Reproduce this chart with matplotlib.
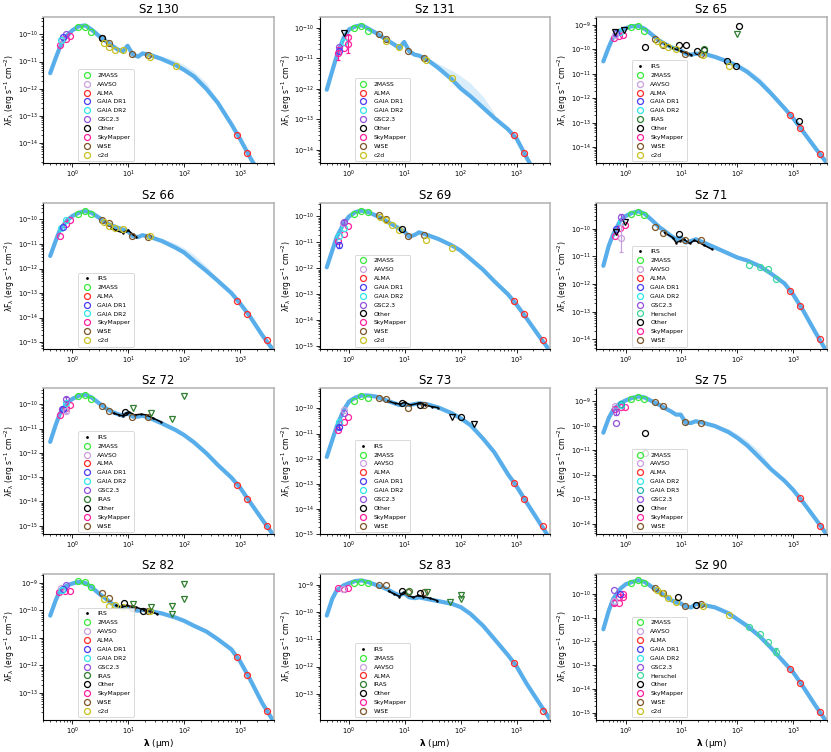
import numpy as np
import matplotlib.pyplot as plt
from matplotlib.lines import Line2D

# model grid (micron); model fluxes are log10(lambda F_lambda)
model_wl = [0.4, 0.5, 0.6, 0.8, 1.0, 1.3, 1.7, 2.2, 3, 4, 5, 6.5, 8, 9.7, 12, 15, 18,
            25, 40, 70, 100, 150, 250, 400, 700, 1000, 1500, 2500, 4000]
fan_wl = [25, 40, 70, 100, 150, 250, 400]

# photometry tuples: (wavelength, log10 flux, source, error in dex, upper limit)
sz130_model = [-11.43, -10.88, -10.46, -10.04, -9.85, -9.70, -9.67, -9.82, -10.06, -10.25, -10.40,
               -10.56, -10.62, -10.42, -10.74, -10.82, -10.70, -10.76, -10.91, -11.13, -11.31,
               -11.55, -12.01, -12.52, -13.31, -13.85, -14.52, -15.30, -16.10]
sz130_fan = [-10.72, -10.80, -10.96, -11.12, -11.36, -11.78, -12.42]
sz130_phot = [(0.61, -10.38, "SkyMapper", 0, 0), (0.77, -10.16, "SkyMapper", 0, 0),
              (0.91, -10.06, "SkyMapper", 0, 0), (0.64, -10.16, "AAVSO", 0, 0),
              (0.78, -9.98, "GSC2.3", 0, 0), (0.67, -10.10, "GAIA DR1", 0, 0),
              (0.62, -10.20, "GAIA DR2", 0, 0),
              (1.235, -9.71, "2MASS", 0, 0), (1.66, -9.71, "2MASS", 0, 0), (2.16, -9.92, "2MASS", 0, 0),
              (3.4, -10.13, "WISE", 0, 0), (4.6, -10.30, "WISE", 0, 0), (11.6, -10.73, "WISE", 0, 0),
              (22.1, -10.76, "WISE", 0, 0), (3.35, -10.12, "Other", 0, 0),
              (3.6, -10.32, "c2d", 0, 0), (4.5, -10.46, "c2d", 0, 0), (5.8, -10.57, "c2d", 0, 0),
              (8.0, -10.58, "c2d", 0, 0), (24, -10.85, "c2d", 0, 0), (70, -11.16, "c2d", 0, 0),
              (890, -13.70, "ALMA", 0, 0), (1330, -14.36, "ALMA", 0, 0)]
sz130_irs = []

sz131_model = [-12.03, -11.42, -10.93, -10.33, -10.05, -9.95, -9.91, -10.02, -10.16, -10.31, -10.42,
               -10.55, -10.66, -10.46, -10.77, -10.88, -10.91, -11.04, -11.32, -11.70, -11.99,
               -12.25, -12.62, -12.96, -13.33, -13.64, -14.25, -15.0, -15.7]
sz131_fan = [-10.98, -11.18, -11.40, -11.58, -11.82, -12.25, -12.80]
sz131_phot = [(0.64, -10.84, "SkyMapper", 0.2, 0), (0.81, -10.66, "SkyMapper", 0, 0),
              (0.96, -10.53, "SkyMapper", 0.3, 0), (0.96, -10.30, "SkyMapper", 0, 0),
              (0.66, -10.64, "GSC2.3", 0, 0), (0.66, -10.75, "GAIA DR1", 0, 0),
              (0.81, -10.46, "GAIA DR2", 0, 0), (0.81, -10.16, "Other", 0, 1),
              (1.235, -10.0, "2MASS", 0, 0), (1.66, -9.95, "2MASS", 0, 0), (2.16, -10.09, "2MASS", 0, 0),
              (3.4, -10.20, "WISE", 0, 0), (4.6, -10.36, "WISE", 0, 0), (11.6, -10.77, "WISE", 0, 0),
              (22.1, -10.99, "WISE", 0, 0),
              (4.5, -10.42, "c2d", 0, 0), (8.0, -10.64, "c2d", 0, 0), (24, -11.07, "c2d", 0, 0),
              (70, -11.64, "c2d", 0, 0),
              (890, -13.53, "ALMA", 0, 0), (1330, -14.11, "ALMA", 0, 0)]
sz131_irs = []

sz65_model = [-10.49, -9.91, -9.50, -9.23, -9.14, -9.05, -9.05, -9.16, -9.41, -9.64, -9.77,
              -9.91, -9.98, -10.04, -10.18, -10.22, -10.18, -10.18, -10.31, -10.52, -10.68,
              -10.92, -11.33, -11.80, -12.41, -12.82, -13.36, -14.04, -14.65]
sz65_fan = [-10.15, -10.22, -10.40, -10.56, -10.78, -11.15, -11.65]
sz65_phot = [(0.61, -9.54, "SkyMapper", 0, 0), (0.77, -9.46, "SkyMapper", 0, 0),
             (0.91, -9.41, "SkyMapper", 0, 0), (0.78, -9.30, "GAIA DR2", 0, 0),
             (0.67, -9.35, "GAIA DR1", 0, 0), (0.64, -9.40, "AAVSO", 0, 0),
             (0.66, -9.28, "Other", 0, 1), (0.95, -9.22, "Other", 0, 1),
             (1.235, -9.07, "2MASS", 0, 0), (1.66, -9.05, "2MASS", 0, 0), (2.16, -9.23, "2MASS", 0, 0),
             (2.2, -9.91, "Other", 0, 0), (9.0, -9.81, "Other", 0, 0), (12, -9.84, "Other", 0, 0),
             (19, -10.07, "Other", 0, 0), (25, -10.02, "Other", 0, 0), (64, -10.48, "Other", 0, 0),
             (93, -10.69, "Other", 0, 0), (106, -9.05, "Other", 0, 0), (1280, -12.92, "Other", 0, 0),
             (3.4, -9.58, "WISE", 0, 0), (4.6, -9.81, "WISE", 0, 0), (11.6, -10.18, "WISE", 0, 0),
             (22.1, -10.20, "WISE", 0, 0),
             (3.6, -9.66, "c2d", 0, 0), (4.5, -9.80, "c2d", 0, 0), (5.8, -9.91, "c2d", 0, 0),
             (8.0, -9.98, "c2d", 0, 0), (24, -10.22, "c2d", 0, 0), (72, -10.69, "c2d", 0, 0),
             (25, -9.98, "IRAS", 0, 0), (100, -9.37, "IRAS", 0, 1),
             (890, -12.69, "ALMA", 0, 0), (1330, -13.20, "ALMA", 0, 0), (3000, -14.28, "ALMA", 0, 0)]
sz65_irs = [(5, -9.77), (7, -9.95), (10, -10.08), (13, -10.18), (15, -10.22)]

sz66_model = [-11.49, -10.88, -10.41, -10.04, -9.86, -9.73, -9.66, -9.73, -9.93, -10.14, -10.24,
              -10.34, -10.41, -10.47, -10.68, -10.72, -10.64, -10.72, -10.88, -11.15, -11.35,
              -11.69, -12.10, -12.50, -13.0, -13.42, -13.95, -14.72, -15.35]
sz66_fan = [-10.69, -10.77, -10.98, -11.16, -11.44, -11.90, -12.42]
sz66_phot = [(0.61, -10.68, "SkyMapper", 0, 0), (0.77, -10.18, "SkyMapper", 0, 0),
             (0.91, -10.03, "SkyMapper", 0, 0), (0.63, -10.34, "GAIA DR2", 0, 0),
             (0.78, -10.04, "GAIA DR2", 0, 0), (0.67, -10.30, "GAIA DR1", 0, 0),
             (1.235, -9.76, "2MASS", 0, 0), (1.66, -9.66, "2MASS", 0, 0), (2.16, -9.76, "2MASS", 0, 0),
             (3.4, -10.03, "WISE", 0, 0), (4.6, -10.14, "WISE", 0, 0), (11.6, -10.68, "WISE", 0, 0),
             (22.1, -10.70, "WISE", 0, 0),
             (3.6, -10.09, "c2d", 0, 0), (4.5, -10.27, "c2d", 0, 0), (5.8, -10.36, "c2d", 0, 0),
             (8.0, -10.41, "c2d", 0, 0), (24, -10.68, "c2d", 0, 0),
             (890, -13.31, "ALMA", 0, 0), (1330, -13.85, "ALMA", 0, 0), (3000, -14.91, "ALMA", 0, 0)]
sz66_irs = [(5, -10.34), (6, -10.45), (8, -10.54), (9, -10.47), (10, -10.45), (12, -10.61), (14, -10.72)]

sz69_model = [-11.96, -11.32, -10.80, -10.28, -10.0, -9.83, -9.77, -9.83, -9.96, -10.09, -10.22,
              -10.35, -10.48, -10.57, -10.78, -10.71, -10.61, -10.71, -10.87, -11.12, -11.32,
              -11.64, -12.05, -12.50, -13.0, -13.40, -13.92, -14.60, -15.2]
sz69_fan = [-10.70, -10.83, -11.06, -11.24, -11.53, -11.97, -12.46]
sz69_phot = [(0.64, -10.93, "SkyMapper", 0, 0), (0.81, -10.67, "SkyMapper", 0, 0),
             (0.96, -10.35, "SkyMapper", 0, 0), (0.66, -11.09, "GAIA DR1", 0.12, 0),
             (0.66, -10.74, "GAIA DR2", 0, 0), (0.81, -10.44, "GAIA DR2", 0, 0),
             (0.79, -10.26, "AAVSO", 0, 0), (0.81, -10.22, "GSC2.3", 0.1, 0),
             (1.235, -9.90, "2MASS", 0, 0), (1.66, -9.79, "2MASS", 0, 0), (2.16, -9.83, "2MASS", 0, 0),
             (3.4, -9.96, "WISE", 0, 0), (4.6, -10.09, "WISE", 0, 0), (11.6, -10.74, "WISE", 0, 0),
             (22.1, -10.71, "WISE", 0, 0),
             (3.6, -10.03, "c2d", 0, 0), (4.5, -10.12, "c2d", 0, 0), (5.8, -10.31, "c2d", 0, 0),
             (8.0, -10.52, "c2d", 0, 0), (24, -10.90, "c2d", 0, 0), (70, -11.21, "c2d", 0, 0),
             (9.0, -10.48, "Other", 0, 0),
             (890, -13.26, "ALMA", 0, 0), (1330, -13.75, "ALMA", 0, 0), (3000, -14.78, "ALMA", 0, 0)]
sz69_irs = []

sz71_model = [-11.34, -10.62, -10.20, -9.72, -9.54, -9.43, -9.37, -9.46, -9.70, -9.94, -10.08,
              -10.26, -10.38, -10.32, -10.50, -10.44, -10.38, -10.50, -10.68, -10.90, -11.04,
              -11.15, -11.35, -11.62, -11.98, -12.38, -12.95, -13.75, -14.45]
sz71_fan = [-10.47, -10.62, -10.83, -10.96, -11.08, -11.30, -11.60]
sz71_phot = [(0.64, -10.26, "SkyMapper", 0, 0), (0.81, -9.99, "SkyMapper", 0, 0),
             (0.97, -9.87, "SkyMapper", 0, 0), (0.68, -10.02, "GAIA DR1", 0, 0),
             (0.84, -9.76, "GAIA DR2", 0, 0), (0.84, -9.58, "GSC2.3", 0.1, 0),
             (0.84, -10.35, "AAVSO", 0.5, 0), (0.68, -10.10, "Other", 0, 1),
             (0.97, -9.75, "Other", 0, 1),
             (1.235, -9.46, "2MASS", 0, 0), (1.66, -9.39, "2MASS", 0, 0), (2.16, -9.51, "2MASS", 0, 0),
             (3.4, -9.93, "WISE", 0, 0), (4.6, -10.14, "WISE", 0, 0), (11.6, -10.42, "WISE", 0, 0),
             (22.1, -10.42, "WISE", 0, 0), (9.0, -10.20, "Other", 0, 0),
             (160, -11.31, "Herschel", 0, 0), (250, -11.37, "Herschel", 0, 0),
             (350, -11.44, "Herschel", 0, 0), (500, -11.80, "Herschel", 0, 0),
             (890, -12.24, "ALMA", 0, 0), (1330, -12.78, "ALMA", 0, 0), (3000, -14.0, "ALMA", 0, 0)]
sz71_irs = [(5, -10.14), (7, -10.32), (8, -10.50), (9.5, -10.44), (11, -10.38), (14, -10.53),
            (17, -10.42), (20, -10.48), (25, -10.59), (35, -10.74)]

sz72_model = [-11.55, -10.86, -10.37, -9.96, -9.78, -9.65, -9.61, -9.72, -9.96, -10.17, -10.30,
              -10.41, -10.47, -10.37, -10.51, -10.51, -10.47, -10.58, -10.79, -11.06, -11.27,
              -11.57, -12.02, -12.50, -13.02, -13.43, -14.02, -14.75, -15.4]
sz72_fan = [-10.57, -10.76, -11.02, -11.21, -11.49, -11.93, -12.46]
sz72_phot = [(0.61, -10.44, "SkyMapper", 0, 0), (0.77, -10.17, "SkyMapper", 0, 0),
             (0.91, -10.03, "SkyMapper", 0, 0), (0.77, -9.78, "GSC2.3", 0.08, 0),
             (0.65, -10.21, "GSC2.3", 0, 0), (0.78, -10.28, "AAVSO", 0.1, 0),
             (0.67, -10.19, "GAIA DR1", 0, 0), (0.78, -9.96, "GAIA DR2", 0, 0),
             (1.235, -9.65, "2MASS", 0, 0), (1.66, -9.64, "2MASS", 0, 0), (2.16, -9.79, "2MASS", 0, 0),
             (3.4, -10.07, "WISE", 0, 0), (4.6, -10.26, "WISE", 0, 0), (11.6, -10.54, "WISE", 0, 0),
             (22.1, -10.54, "WISE", 0, 0), (8.6, -10.30, "Other", 0, 0),
             (12, -10.17, "IRAS", 0, 1), (25, -10.37, "IRAS", 0, 1), (60, -10.61, "IRAS", 0, 1),
             (100, -9.65, "IRAS", 0, 1),
             (890, -13.31, "ALMA", 0, 0), (1330, -13.92, "ALMA", 0, 0), (3000, -15.03, "ALMA", 0, 0)]
sz72_irs = [(5.5, -10.37), (6.8, -10.44), (8, -10.48), (9, -10.37), (10.5, -10.33), (13, -10.44),
            (17, -10.41), (21, -10.44), (28, -10.58), (38, -10.72)]

sz73_model = [-11.93, -11.27, -10.73, -10.07, -9.73, -9.57, -9.49, -9.49, -9.53, -9.63, -9.71,
              -9.80, -9.87, -9.84, -9.87, -9.83, -9.80, -9.84, -9.97, -10.20, -10.40,
              -10.67, -11.20, -11.75, -12.62, -13.10, -13.73, -14.50, -15.2]
sz73_fan = [-9.83, -9.95, -10.17, -10.36, -10.62, -11.12, -11.70]
sz73_phot = [(0.64, -10.87, "SkyMapper", 0, 0), (0.81, -10.53, "SkyMapper", 0, 0),
             (0.96, -10.36, "SkyMapper", 0, 0), (0.66, -10.56, "GAIA DR2", 0, 0),
             (0.67, -10.73, "GAIA DR1", 0.08, 0), (0.81, -10.20, "GSC2.3", 0, 0),
             (0.81, -10.07, "AAVSO", 0, 0),
             (1.235, -9.69, "2MASS", 0, 0), (1.66, -9.51, "2MASS", 0, 0), (2.16, -9.57, "2MASS", 0, 0),
             (3.4, -9.57, "WISE", 0, 0), (4.6, -9.63, "WISE", 0, 0), (11.6, -9.97, "WISE", 0, 0),
             (22.1, -9.87, "WISE", 0, 0),
             (9.0, -9.77, "Other", 0, 0), (19, -9.87, "Other", 0, 0), (100, -10.35, "Other", 0, 0),
             (70, -10.36, "Other", 0, 1), (170, -10.63, "Other", 0, 1),
             (890, -12.97, "ALMA", 0, 0), (1330, -13.60, "ALMA", 0, 0), (3000, -14.69, "ALMA", 0, 0)]
sz73_irs = [(5, -9.71), (6.6, -9.80), (8.2, -9.83), (10, -9.76), (12.5, -9.87), (17.5, -9.80),
            (23, -9.87), (30, -9.93), (39, -9.97)]

sz75_model = [-10.28, -9.68, -9.34, -9.07, -8.96, -8.86, -8.80, -8.84, -9.00, -9.14, -9.27,
              -9.41, -9.54, -9.54, -9.88, -9.88, -9.81, -9.88, -10.01, -10.26, -10.49,
              -10.80, -11.30, -11.77, -12.25, -12.62, -13.12, -13.80, -14.45]
sz75_fan = [-9.85, -9.93, -10.12, -10.32, -10.60, -11.05, -11.65]
sz75_phot = [(0.64, -9.31, "SkyMapper", 0, 0), (0.84, -9.23, "SkyMapper", 0, 0),
             (0.97, -9.24, "SkyMapper", 0, 0), (0.66, -9.20, "AAVSO", 0, 0),
             (0.67, -9.88, "GSC2.3", 0, 0), (0.67, -9.45, "GSC2.3", 0.12, 0),
             (0.84, -9.14, "GAIA DR2", 0, 0), (0.84, -9.09, "GAIA DR3", 0, 0),
             (1.235, -8.89, "2MASS", 0, 0), (1.66, -8.82, "2MASS", 0, 0), (2.16, -8.91, "2MASS", 0, 0),
             (3.4, -9.03, "WISE", 0, 0), (4.6, -9.18, "WISE", 0, 0), (11.6, -9.84, "WISE", 0, 0),
             (22.1, -9.88, "WISE", 0, 0),
             (2.2, -10.31, "Other", 0, 0), (2.2, -11.09, "Other", 0, 0),
             (1330, -12.96, "ALMA", 0, 0), (3000, -14.09, "ALMA", 0, 0)]
sz75_irs = []

sz82_model = [-10.19, -9.64, -9.27, -9.09, -9.02, -8.96, -9.0, -9.15, -9.39, -9.58, -9.74,
              -9.86, -9.91, -9.86, -9.98, -10.01, -9.98, -10.03, -10.11, -10.26, -10.38,
              -10.56, -10.77, -11.05, -11.42, -11.85, -12.50, -13.38, -14.05]
sz82_fan = [-10.02, -10.09, -10.23, -10.34, -10.51, -10.72, -11.02]
sz82_phot = [(0.58, -9.33, "SkyMapper", 0, 0), (0.75, -9.30, "SkyMapper", 0, 0),
             (0.90, -9.30, "SkyMapper", 0, 0), (0.77, -9.09, "GSC2.3", 0, 0),
             (0.62, -9.17, "AAVSO", 0, 0), (0.67, -9.22, "GAIA DR1", 0, 0),
             (0.64, -9.25, "GAIA DR2", 0, 0),
             (1.235, -8.94, "2MASS", 0, 0), (1.66, -8.96, "2MASS", 0, 0), (2.16, -9.15, "2MASS", 0, 0),
             (3.4, -9.37, "WISE", 0, 0), (4.6, -9.55, "WISE", 0, 0), (11.6, -9.91, "WISE", 0, 0),
             (22.1, -10.01, "WISE", 0, 0),
             (3.6, -9.58, "c2d", 0, 0), (4.5, -9.85, "c2d", 0, 0), (5.8, -9.82, "c2d", 0, 0),
             (8.0, -9.86, "c2d", 0, 0), (24, -10.01, "c2d", 0, 0),
             (8.3, -9.74, "Other", 0, 0), (18, -10.01, "Other", 0, 0),
             (12, -9.76, "IRAS", 0, 1), (25, -9.86, "IRAS", 0, 1), (60, -9.85, "IRAS", 0, 1),
             (60, -10.13, "IRAS", 0, 1), (100, -9.05, "IRAS", 0, 1), (100, -9.60, "IRAS", 0, 1),
             (890, -11.70, "ALMA", 0, 0), (1330, -12.35, "ALMA", 0, 0), (3000, -13.68, "ALMA", 0, 0)]
sz82_irs = [(6, -9.82), (7.5, -9.89), (9.3, -9.82), (11.5, -9.86), (14, -9.89), (19, -9.98),
            (24, -10.03), (33, -10.13)]

sz83_model = [-10.13, -9.52, -9.21, -9.02, -8.94, -8.86, -8.84, -8.90, -9.0, -9.09, -9.18,
              -9.31, -9.39, -9.31, -9.46, -9.49, -9.46, -9.52, -9.60, -9.70, -9.82,
              -10.07, -10.50, -10.99, -11.58, -12.0, -12.62, -13.32, -13.95]
sz83_fan = [-9.51, -9.58, -9.67, -9.78, -10.02, -10.44, -10.95]
sz83_phot = [(0.64, -9.12, "SkyMapper", 0, 0), (0.81, -9.17, "SkyMapper", 0, 0),
             (0.96, -9.12, "SkyMapper", 0, 0), (0.77, -9.15, "AAVSO", 0, 0),
             (1.235, -8.94, "2MASS", 0, 0), (1.66, -8.88, "2MASS", 0, 0), (2.16, -8.94, "2MASS", 0, 0),
             (3.4, -9.02, "WISE", 0, 0), (4.6, -9.0, "WISE", 0, 0), (11.6, -9.27, "WISE", 0, 0),
             (22.1, -9.25, "WISE", 0, 0),
             (9.0, -9.21, "Other", 0, 0), (19, -9.31, "Other", 0, 0),
             (12, -9.21, "IRAS", 0, 0), (25, -9.27, "IRAS", 0, 1), (65, -9.62, "IRAS", 0, 1),
             (100, -9.39, "IRAS", 0, 1), (100, -9.52, "IRAS", 0, 1),
             (890, -11.86, "ALMA", 0, 0), (3000, -13.62, "ALMA", 0, 0)]
sz83_irs = [(5.1, -9.23), (6.4, -9.33), (8, -9.43), (9.5, -9.27), (11.5, -9.39), (14, -9.46),
            (17.5, -9.39), (21, -9.43), (28, -9.49), (38, -9.58)]

sz90_model = [-11.49, -10.71, -10.21, -9.79, -9.60, -9.50, -9.43, -9.50, -9.72, -9.93, -10.07,
              -10.26, -10.36, -10.40, -10.54, -10.57, -10.43, -10.47, -10.57, -10.82, -11.07,
              -11.35, -11.78, -12.27, -12.90, -13.30, -13.90, -14.70, -15.4]
sz90_fan = [-10.45, -10.52, -10.73, -10.96, -11.22, -11.66, -12.22]
sz90_phot = [(0.61, -10.40, "SkyMapper", 0, 0), (0.61, -10.33, "SkyMapper", 0, 0),
             (0.77, -10.40, "SkyMapper", 0, 0), (0.77, -10.14, "SkyMapper", 0, 0),
             (0.91, -10.14, "SkyMapper", 0, 0), (0.91, -10.0, "SkyMapper", 0, 0),
             (0.63, -9.83, "GSC2.3", 0, 0), (0.78, -10.0, "GAIA DR1", 0, 0),
             (0.63, -10.28, "GAIA DR2", 0, 0), (0.63, -10.30, "AAVSO", 0, 0),
             (1.235, -9.55, "2MASS", 0, 0), (1.66, -9.43, "2MASS", 0, 0), (2.16, -9.53, "2MASS", 0, 0),
             (3.4, -9.76, "WISE", 0, 0), (4.6, -9.97, "WISE", 0, 0), (11.6, -10.50, "WISE", 0, 0),
             (22.1, -10.43, "WISE", 0, 0),
             (3.6, -9.82, "c2d", 0, 0), (4.5, -9.97, "c2d", 0, 0), (5.8, -10.18, "c2d", 0, 0),
             (8.0, -10.33, "c2d", 0, 0), (24, -10.50, "c2d", 0, 0), (70, -10.88, "c2d", 0, 0),
             (8.7, -10.14, "Other", 0, 0), (18.5, -10.45, "Other", 0, 0),
             (160, -11.38, "Herschel", 0, 0), (250, -11.70, "Herschel", 0, 0),
             (350, -12.02, "Herschel", 0, 0), (500, -12.44, "Herschel", 0.15, 0),
             (890, -13.17, "ALMA", 0, 0), (1330, -13.74, "ALMA", 0, 0), (3000, -14.97, "ALMA", 0, 0)]
sz90_irs = []

panels = [
    ("Sz 130", sz130_model, sz130_fan, sz130_phot, sz130_irs, (-14.75, -9.37)),
    ("Sz 131", sz131_model, sz131_fan, sz131_phot, sz131_irs, (-14.45, -9.65)),
    ("Sz 65", sz65_model, sz65_fan, sz65_phot, sz65_irs, (-14.66, -8.69)),
    ("Sz 66", sz66_model, sz66_fan, sz66_phot, sz66_irs, (-15.27, -9.32)),
    ("Sz 69", sz69_model, sz69_fan, sz69_phot, sz69_irs, (-15.10, -9.47)),
    ("Sz 71", sz71_model, sz71_fan, sz71_phot, sz71_irs, (-14.34, -9.06)),
    ("Sz 72", sz72_model, sz72_fan, sz72_phot, sz72_irs, (-15.35, -9.34)),
    ("Sz 73", sz73_model, sz73_fan, sz73_phot, sz73_irs, (-15.0, -9.20)),
    ("Sz 75", sz75_model, sz75_fan, sz75_phot, sz75_irs, (-14.43, -8.46)),
    ("Sz 82", sz82_model, sz82_fan, sz82_phot, sz82_irs, (-13.98, -8.66)),
    ("Sz 83", sz83_model, sz83_fan, sz83_phot, sz83_irs, (-13.95, -8.59)),
    ("Sz 90", sz90_model, sz90_fan, sz90_phot, sz90_irs, (-15.29, -9.15)),
]

colors = {
    "2MASS": "#3ae83a", "AAVSO": "#c9a0dc", "ALMA": "#ff2a2a", "GAIA DR1": "#4a3cf0",
    "GAIA DR2": "#2fe6e6", "GAIA DR3": "#1fb5b0", "GSC2.3": "#9350dc", "Herschel": "#3dd69a",
    "IRAS": "#2f7d2f", "Other": "black", "SkyMapper": "#ff1f9e", "WISE": "#7d5528",
    "c2d": "#c8c020",
}
BLUE = "#58aeea"

fig = plt.figure(figsize=(8.31, 7.52), dpi=100)
axes = fig.subplots(4, 3)
fig.subplots_adjust(left=0.052, right=0.995, top=0.977, bottom=0.043, wspace=0.2, hspace=0.27)

idx = [model_wl.index(w) for w in fan_wl]

for k, (name, model, fan, phot, irs, ylim) in enumerate(panels):
    ax = axes.flat[k]
    mflux = 10 ** np.array(model)
    # faint spread of fitted models in the far-IR
    ax.fill_between(fan_wl, mflux[idx], 10 ** np.array(fan), color=BLUE, alpha=0.22, lw=0, zorder=1)
    ax.plot(model_wl, mflux, color=BLUE, lw=3.0, solid_capstyle="round",
            solid_joinstyle="round", zorder=2)

    handles = []
    if irs:
        iw = [p[0] for p in irs]
        iflux = [10 ** p[1] for p in irs]
        ax.plot(iw, iflux, color="black", lw=1.1, marker=".", ms=1.5, zorder=3)
        handles.append(Line2D([], [], ls="none", marker=".", ms=2, color="black", label="IRS"))

    for wl, lf, src, err, ul in phot:
        c = colors[src]
        mk = "v" if ul else "o"
        if err > 0:
            f = 10 ** lf
            ax.errorbar([wl], [f], yerr=[[f - 10 ** (lf - err)], [10 ** (lf + err) - f]],
                        fmt=mk, mfc="none", mec=c, ecolor=c, ms=4.3, mew=0.9, elinewidth=0.9,
                        capsize=1.2, zorder=4)
        else:
            ax.plot([wl], [10 ** lf], ls="none", marker=mk, mfc="none", mec=c, ms=4.3,
                    mew=0.9, zorder=4)

    for src in sorted(set(p[2] for p in phot)):
        handles.append(Line2D([], [], ls="none", marker="o", mfc="none", mec=colors[src],
                              ms=4.3, mew=0.9, label=src))

    ax.set_xscale("log")
    ax.set_yscale("log")
    ax.set_xlim(0.3, 4000)
    ax.set_ylim(10 ** ylim[0], 10 ** ylim[1])
    ax.set_title(name, fontsize=8.5, pad=3)
    ax.set_ylabel(r"$\mathrm{\lambda F_\lambda}$ (erg s$^{-1}$ cm$^{-2}$)", fontsize=5.5, labelpad=0.5)
    if k >= 9:
        ax.set_xlabel(r"$\mathbf{\lambda}$ ($\mathrm{\mu}$m)", fontsize=6.5, labelpad=0)
    ax.tick_params(which="major", labelsize=4.8, length=2.8, width=0.6, pad=1.2)
    ax.tick_params(which="minor", length=1.5, width=0.5)
    for side in ("top", "right"):
        ax.spines[side].set_color("#b0b0b0")
        ax.spines[side].set_linewidth(1.1)
    for side in ("left", "bottom"):
        ax.spines[side].set_linewidth(0.8)

    leg = ax.legend(handles=handles, loc="lower left", bbox_to_anchor=(0.14, -0.005),
                    fontsize=4.3, handlelength=1.6, handletextpad=1.0, borderpad=0.55,
                    labelspacing=0.62, framealpha=0.85, edgecolor="#cccccc", fancybox=True)
    leg.get_frame().set_linewidth(0.6)
    leg.set_zorder(5)

fig.savefig("out.png", dpi=100)
